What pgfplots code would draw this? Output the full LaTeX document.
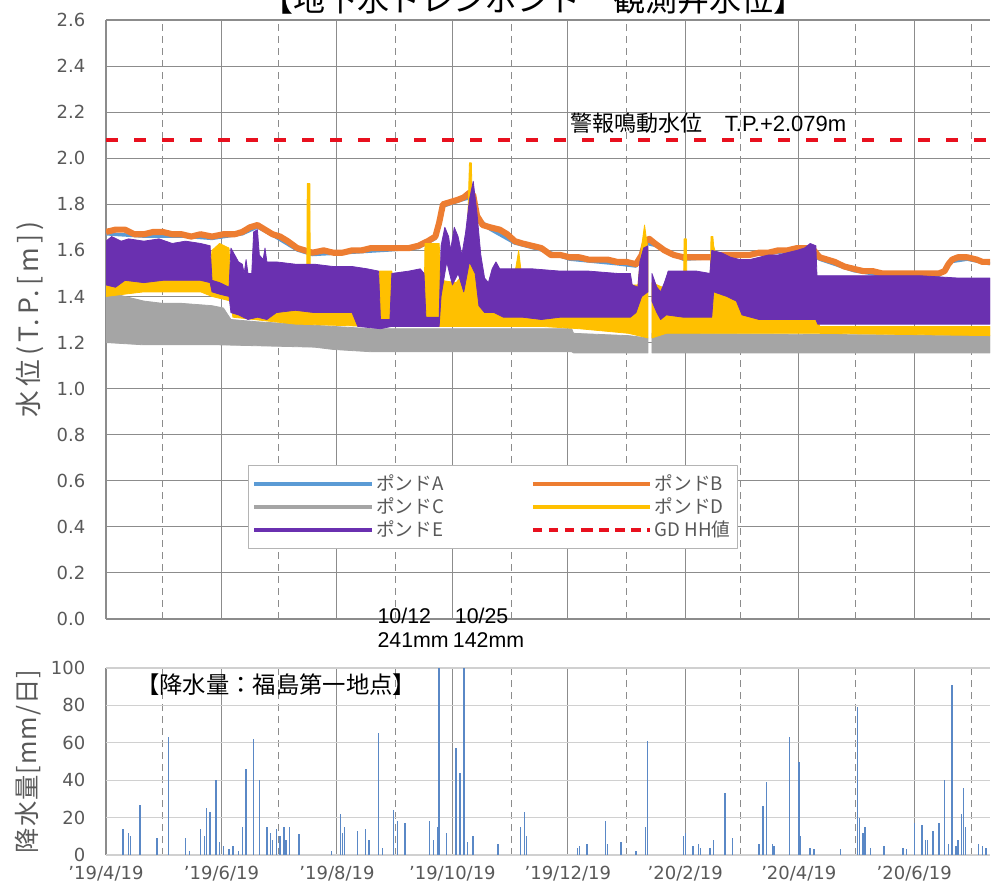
\documentclass[border=0pt]{standalone}
\usepackage{fontspec}
\usepackage{pgfplots}
\pgfplotsset{compat=1.18}
\setmainfont{DejaVu Sans}
\newfontfamily\jp{Noto Sans CJK JP}
\newfontfamily\jpsp[LetterSpace=15]{Noto Sans CJK JP}
\newfontfamily\jpspb[LetterSpace=4]{Noto Sans CJK JP}
\newfontfamily\ar{Liberation Sans}
\definecolor{cA}{HTML}{5B9BD5}
\definecolor{cB}{HTML}{ED7D31}
\definecolor{cC}{HTML}{A5A5A5}
\definecolor{cD}{HTML}{FFC000}
\definecolor{cE}{HTML}{6A30B0}
\definecolor{cR}{HTML}{E8101E}
\definecolor{tk}{HTML}{595959}
\definecolor{gridd}{HTML}{8C8C8C}
\definecolor{gridl}{HTML}{D0D0D0}
\definecolor{rain}{HTML}{5A88C6}
\begin{document}
\begin{tikzpicture}
\pgfplotsset{
 base/.style={
  scale only axis, width=663pt,
  xmin=0, xmax=467,
  xtick={0,61,122,183,244,306,366,427},
  minor xtick={30,91,153,214,275,335,396,457},
  xmajorgrids, xminorgrids, ymajorgrids,
  axis line style={draw=none},
  major tick length=0pt, minor tick length=0pt,
  tick label style={font=\fontsize{13.5}{16}\selectfont, text=tk},
  /pgf/number format/assume math mode=true,
  major x grid style={gridd, line width=0.8pt},
  minor x grid style={gridd, line width=0.8pt, dash pattern=on 5pt off 4pt},
  line join=round,
 }
}
% ---------------- top panel: water level ----------------
\begin{axis}[base, at={(79.5pt,205.5pt)}, anchor=south west, height=449.25pt,
 ymin=0, ymax=2.6,
 ytick={0,0.2,0.4,0.6,0.8,1.0,1.2,1.4,1.6,1.8,2.0,2.2,2.4,2.6},
 xticklabels={},
 yticklabel style={xshift=-12pt, /pgf/number format/fixed, /pgf/number format/fixed zerofill, /pgf/number format/precision=1},
 major y grid style={gridd, line width=0.8pt},
 ylabel={\jpsp\fontsize{20}{22}\selectfont 水位(T.P.[m])},
 ylabel style={at={(axis description cs:-0.086,0.5)}, anchor=center, text=tk},
 legend columns=2,
 legend cell align=left,
 legend style={at={(axis description cs:0.1606,0.2571)}, anchor=north west,
   draw=tk!45, fill=white, font=\jp\fontsize{14}{16}\selectfont, text=tk,
   inner xsep=3pt, inner ysep=5pt, row sep=0pt, nodes={inner sep=2pt},
   /tikz/every even column/.append style={column sep=63pt}},
 legend image code/.code={\path (0pt,0pt) -- (38pt,0pt); \draw[#1] (38pt,0pt) -- (88pt,0pt);},
]
% Pond A (mostly hidden under B)
\addplot[cA, line width=2.6pt, forget plot] coordinates {
(0,1.672)(20,1.662)(40,1.662)(56,1.652)(72,1.672)(80,1.702)(90,1.657)(101,1.602)(109,1.582)(130,1.592)(150,1.602)(165,1.612)(174,1.652)(178,1.792)(189,1.822)(194,1.832)(196,1.742)(203,1.692)(216,1.632)(230,1.602)(245,1.562)(270,1.542)(280,1.532)(285,1.632)(290,1.622)(305,1.562)(330,1.572)(355,1.592)(370,1.602)(377,1.562)(395,1.512)(410,1.492)(440,1.492)(447,1.552)(455,1.562)(467,1.542)};
% Pond B
\addplot[cB, line width=4.6pt, forget plot] coordinates {
(0,1.68)(5,1.69)(10,1.69)(15,1.67)(20,1.67)(25,1.68)(30,1.68)(35,1.67)(40,1.67)(45,1.66)(50,1.67)(56,1.66)(62,1.67)(68,1.67)(72,1.68)(76,1.70)(80,1.71)(84,1.69)(88,1.67)(92,1.66)(96,1.64)(101,1.61)(105,1.60)(109,1.59)(115,1.60)(120,1.59)(125,1.59)(130,1.60)(135,1.60)(140,1.61)(145,1.61)(150,1.61)(155,1.61)(160,1.61)(165,1.62)(170,1.64)(174,1.66)(176,1.72)(178,1.80)(182,1.81)(186,1.82)(189,1.83)(192,1.85)(194,1.84)(196,1.75)(199,1.71)(203,1.70)(208,1.69)(212,1.67)(216,1.64)(220,1.63)(225,1.62)(230,1.61)(235,1.58)(240,1.58)(245,1.57)(250,1.57)(255,1.56)(260,1.56)(265,1.56)(270,1.55)(275,1.55)(280,1.54)(283,1.58)(285,1.64)(287,1.65)(290,1.63)(295,1.60)(300,1.58)(305,1.57)(310,1.57)(315,1.57)(320,1.57)(325,1.58)(330,1.58)(335,1.58)(340,1.58)(345,1.59)(350,1.59)(355,1.60)(360,1.60)(365,1.61)(370,1.61)(374,1.60)(377,1.57)(381,1.56)(385,1.55)(390,1.53)(395,1.52)(400,1.51)(405,1.51)(410,1.50)(415,1.50)(420,1.50)(425,1.50)(430,1.50)(435,1.50)(440,1.50)(443,1.51)(445,1.54)(447,1.56)(450,1.57)(455,1.57)(460,1.56)(463,1.55)(467,1.55)};
% Pond C (band of daily fluctuation: upper edge, then lower edge back)
\addplot[fill=cC, draw=cC, line width=0.6pt, forget plot] coordinates {
(0,1.43)(5,1.41)(10,1.40)(20,1.38)(30,1.37)(40,1.37)(56,1.36)(62,1.35)(66,1.30)(80,1.29)(100,1.28)(120,1.27)(140,1.26)(200,1.26)(246,1.26)(247,1.24)(276,1.23)(286.3,1.22)
(286.3,1.155)(247,1.155)(246,1.16)(200,1.16)(140,1.16)(120,1.17)(110,1.18)(60,1.19)(20,1.19)(0,1.20)} -- cycle;
\addplot[fill=cC, draw=cC, line width=0.6pt, forget plot] coordinates {
(288.4,1.24)(467,1.23)(467,1.155)(288.4,1.155)} -- cycle;
% Pond D
\addplot[fill=cD, draw=cD, line width=0.6pt, forget plot] coordinates {
(0,1.56)(5,1.55)(10,1.53)(20,1.51)(30,1.52)(40,1.51)(50,1.51)(55,1.52)(56,1.60)(60,1.63)(65,1.61)(66,1.45)(70,1.40)(80,1.37)(100,1.36)(106,1.36)(106.3,1.89)(107.7,1.89)(108,1.36)(120,1.35)(133,1.34)(144,1.34)(144.5,1.51)(151,1.51)(151.5,1.32)(168,1.32)(168.5,1.63)(176,1.63)(177,1.47)(185,1.46)(189,1.50)(191,1.70)(192,1.98)(193,1.98)(194,1.62)(196,1.46)(200,1.36)(210,1.35)(216,1.50)(218,1.60)(220,1.46)(224,1.36)(235,1.32)(250,1.31)(270,1.31)(275,1.45)(281,1.45)(283,1.62)(284.5,1.71)(285.5,1.65)(286.3,1.60)
(286.3,1.22)(276,1.24)(250,1.26)(230,1.27)(200,1.27)(176,1.27)(140,1.27)(100,1.28)(67,1.31)(66,1.38)(56,1.40)(50,1.42)(20,1.42)(0,1.40)} -- cycle;
\addplot[fill=cD, draw=cD, line width=0.6pt, forget plot] coordinates {
(288.4,1.46)(294,1.44)(298,1.38)(305,1.38)(305.4,1.65)(306.6,1.65)(307,1.37)(319,1.37)(319.6,1.66)(320.6,1.66)(321,1.62)(325,1.50)(333,1.44)(338,1.36)(345,1.31)(376,1.31)(377,1.27)(467,1.27)
(467,1.23)(376,1.24)(340,1.24)(296,1.24)(288.4,1.22)} -- cycle;
% Pond E
\addplot[fill=cE, draw=cE, line width=0.6pt, forget plot] coordinates {
(0,1.64)(3,1.66)(8,1.64)(12,1.65)(20,1.64)(28,1.65)(35,1.63)(42,1.64)(50,1.63)(55,1.62)(56,1.47)(60,1.46)(65,1.44)(66,1.61)(68,1.58)(70,1.55)(72,1.54)(73,1.50)(74,1.56)(75,1.50)(77,1.50)(78,1.68)(80,1.69)(81,1.58)(83,1.56)(84,1.61)(85,1.55)(90,1.55)(100,1.54)(110,1.54)(120,1.53)(130,1.53)(138,1.52)(144,1.51)(145,1.30)(150,1.30)(151,1.50)(160,1.51)(166,1.52)(168,1.50)(169,1.31)(176,1.31)(177,1.62)(179,1.70)(181,1.66)(182,1.60)(184,1.70)(186,1.66)(188,1.58)(190,1.68)(192,1.82)(194,1.90)(196,1.76)(198,1.58)(200,1.48)(202,1.46)(204,1.52)(206,1.55)(208,1.52)(215,1.52)(225,1.52)(240,1.51)(255,1.51)(270,1.50)(277,1.50)(278,1.45)(281,1.44)(282,1.55)(284,1.61)(286.3,1.62)
(286.3,1.42)(283,1.40)(280,1.33)(277,1.31)(270,1.31)(260,1.31)(250,1.31)(240,1.31)(230,1.30)(220,1.31)(210,1.31)(205,1.33)(200,1.33)(197,1.36)(195,1.50)(192,1.55)(189,1.42)(186,1.50)(183,1.45)(180,1.55)(177,1.40)(176,1.27)(168,1.27)(160,1.27)(151,1.27)(145,1.26)(133,1.27)(130,1.33)(120,1.33)(110,1.33)(100,1.34)(90,1.33)(85,1.30)(80,1.31)(75,1.30)(70,1.32)(66,1.33)(65,1.40)(60,1.41)(56,1.42)(55,1.46)(50,1.47)(40,1.47)(30,1.47)(20,1.46)(10,1.47)(5,1.44)(0,1.45)} -- cycle;
\addplot[fill=cE, draw=cE, line width=0.6pt, forget plot] coordinates {
(288.4,1.50)(291,1.44)(293,1.42)(295,1.46)(297,1.51)(305,1.51)(312,1.51)(319,1.50)(320,1.60)(325,1.59)(330,1.57)(335,1.56)(340,1.56)(345,1.57)(350,1.58)(355,1.58)(360,1.59)(365,1.60)(369,1.61)(372,1.63)(375,1.62)(375.6,1.49)(390,1.49)(410,1.49)(430,1.49)(450,1.48)(467,1.48)
(467,1.28)(430,1.28)(400,1.28)(376,1.28)(375,1.30)(360,1.30)(345,1.30)(336,1.32)(333,1.38)(328,1.40)(321,1.42)(320,1.31)(315,1.31)(305,1.31)(296,1.32)(293,1.30)(291,1.33)(288.4,1.38)} -- cycle;
% alarm level
\addplot[cR, line width=3pt, dash pattern=on 9pt off 12pt, forget plot] coordinates {(0,2.079)(467,2.079)};
% legend
\addlegendimage{cA, line width=3pt}\addlegendentry{ポンドA}
\addlegendimage{cB, line width=3pt}\addlegendentry{ポンドB}
\addlegendimage{cC, line width=3pt}\addlegendentry{ポンドC}
\addlegendimage{cD, line width=3pt}\addlegendentry{ポンドD}
\addlegendimage{cE, line width=3pt}\addlegendentry{ポンドE}
\addlegendimage{cR, line width=3pt, dash pattern=on 7pt off 5pt}\addlegendentry{GD HH値}
\end{axis}
% ---------------- bottom panel: rainfall ----------------
\begin{axis}[base, at={(79.5pt,28.5pt)}, anchor=south west, height=140.25pt,
 ymin=0, ymax=100, ytick={0,20,40,60,80,100},
 xticklabels={'19/4/19,'19/6/19,'19/8/19,'19/10/19,'19/12/19,'20/2/19,'20/4/19,'20/6/19},
 xticklabel style={yshift=-5pt},
 yticklabel style={xshift=-12pt},
 major y grid style={gridl, line width=0.8pt},
 ylabel={\jpspb\fontsize{19}{22}\selectfont 降水量[mm/日]},
 ylabel style={at={(axis description cs:-0.088,0.5)}, anchor=center, text=tk},
]
\addplot[ycomb, rain, line width=1.1pt, forget plot] coordinates {
(9,14)(12,12)(13,10)(18,27)(27,9)(33,63)(42,9)(44,2)(50,14)(52,10)(53,25)(55,23)(58,40)(60,7)(62,5)(65,3)(67,5)(70,2)(72,15)(74,46)(78,62)(81,40)(85,15)(87,12)(88,8)(90,14)(92,10)(94,15)(95,8)(97,15)(102,11)(119,2)(124,22)(125,12)(126,15)(133,13)(137,14)(139,8)(144,65)(146,4)(152,24)(154,18)(158,17)(171,18)(173,8)(175,15)(176,241)(180,12)(185,57)(187,44)(189,142)(191,7)(194,10)(207,6)(219,15)(221,23)(222,10)(249,4)(250,5)(254,6)(264,18)(265,6)(272,7)(280,2)(285,15)(286,61)(305,10)(306,12)(310,5)(313,6)(314,4)(319,4)(321,8)(327,33)(331,9)(345,6)(347,26)(349,39)(352,6)(353,5)(361,63)(366,50)(367,10)(372,4)(374,3)(388,3)(397,79)(398,20)(400,12)(401,15)(404,4)(411,5)(421,4)(423,3)(427,17)(431,16)(433,8)(434,8)(437,13)(440,17)(443,40)(445,6)(447,91)(449,5)(450,8)(452,22)(453,36)(454,15)(461,6)(463,5)(465,4)};
\end{axis}
% ---------------- text annotations ----------------
\node[font=\jp\fontsize{24}{28}\selectfont, anchor=center] at (400pt,670.5pt) {【地下水ドレンポンド　観測井水位】};
\node[anchor=west, inner sep=0pt, font=\fontsize{16.5}{19}\selectfont] at (428pt,577.5pt) {\jp 警報鳴動水位　\ar T.P.+2.079m};
\node[anchor=west, inner sep=0pt, font=\ar\fontsize{16}{19}\selectfont] at (283pt,208pt) {10/12};
\node[anchor=west, inner sep=0pt, font=\ar\fontsize{16}{19}\selectfont] at (341pt,208pt) {10/25};
\node[anchor=west, inner sep=0pt, font=\ar\fontsize{16}{19}\selectfont] at (283pt,189.5pt) {241mm};
\node[anchor=west, inner sep=0pt, font=\ar\fontsize{16}{19}\selectfont] at (339.5pt,189.5pt) {142mm};
\node[anchor=west, inner sep=0pt, font=\jp\fontsize{17.5}{20}\selectfont] at (102pt,156pt) {【降水量：福島第一地点】};
\pgfresetboundingbox
\useasboundingbox (0pt,0pt) rectangle (744pt,669.75pt);
\end{tikzpicture}
\end{document}
